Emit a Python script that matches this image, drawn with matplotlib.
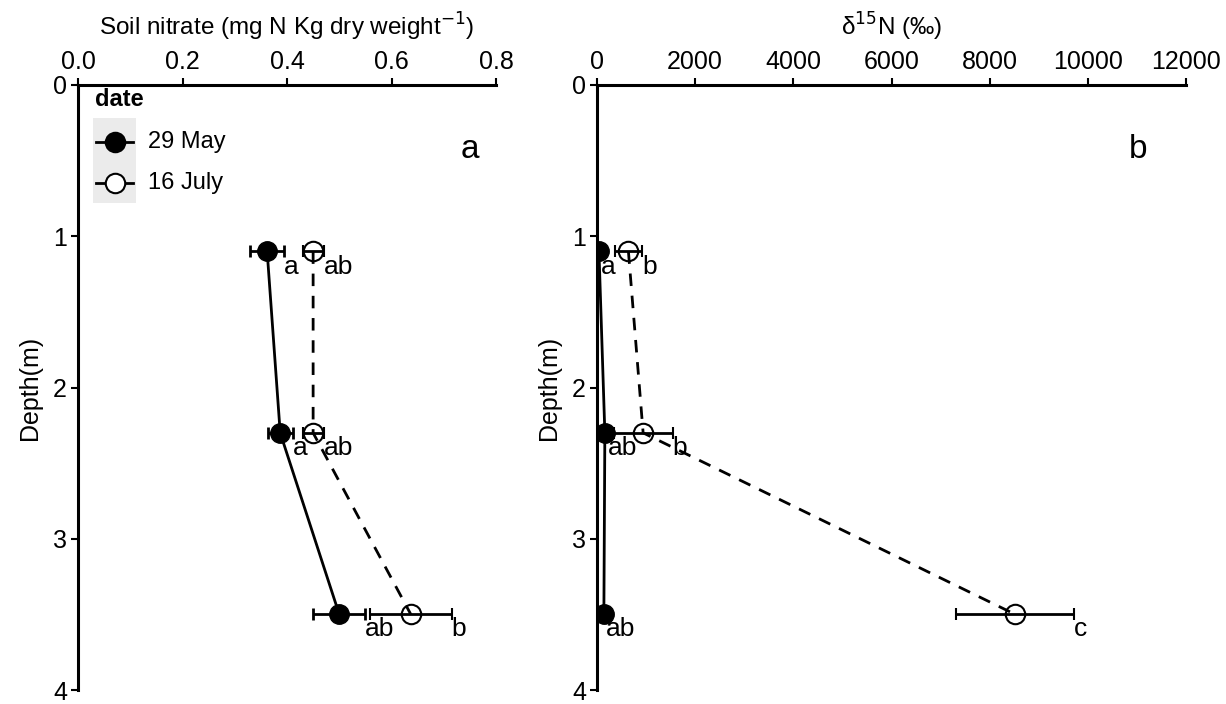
import matplotlib
matplotlib.use("Agg")
import matplotlib.pyplot as plt
from matplotlib.lines import Line2D
from matplotlib.patches import Rectangle

# data
depth = [1.1, 2.3, 3.5]

nitrateMay = [0.362, 0.387, 0.500]
nitrateMayErr = [0.032, 0.024, 0.050]
nitrateJuly = [0.450, 0.450, 0.637]
nitrateJulyErr = [0.020, 0.020, 0.078]
nitrateMayLetters = ["a", "a", "ab"]
nitrateJulyLetters = ["ab", "ab", "b"]

d15nMay = [40, 160, 140]
d15nMayErr = [40, 60, 50]
d15nJuly = [640, 940, 8520]
d15nJulyErr = [280, 600, 1200]
d15nMayLetters = ["a", "ab", "ab"]
d15nJulyLetters = ["b", "b", "c"]

legendLabels = ["29 May", "16 July"]

plt.rcParams["font.family"] = ["Liberation Sans", "DejaVu Sans"]

W, H = 1226, 704
fig = plt.figure(figsize=(W / 100, H / 100), dpi=100)


def box(x0, x1, y0, y1):
    return [x0 / W, 1 - y1 / H, (x1 - x0) / W, (y1 - y0) / H]


axA = fig.add_axes(box(78, 496, 85, 690))
axB = fig.add_axes(box(597, 1186, 85, 690))
dashed = (0, (4.5, 3.5))


def drawPanel(ax, may, mayErr, july, julyErr, mayLet, julyLet, xlim, xticks, xticklabels, xlabel):
    ax.errorbar(may, depth, xerr=mayErr, color="black", lw=2, ls="-", marker="o", ms=14,
                mfc="black", mec="black", capsize=4, elinewidth=2, capthick=2, zorder=3)
    ax.errorbar(july, depth, xerr=julyErr, color="black", lw=2, ls=dashed, marker="o", ms=14,
                mfc="none", mec="black", mew=1.5, capsize=4, elinewidth=2, capthick=2, zorder=3)
    for x, e, d, s in zip(may, mayErr, depth, mayLet):
        ax.text(x + e, d + 0.1, s, ha="left", va="center", fontsize=19)
    for x, e, d, s in zip(july, julyErr, depth, julyLet):
        ax.text(x + e, d + 0.1, s, ha="left", va="center", fontsize=19)

    ax.set_xlim(*xlim)
    ax.set_ylim(4, 0)
    ax.xaxis.tick_top()
    ax.xaxis.set_label_position("top")
    ax.set_xticks(xticks)
    ax.set_xticklabels(xticklabels)
    ax.set_yticks([0, 1, 2, 3, 4])
    ax.set_yticklabels(["0", "1", "2", "3", "4"])
    ax.tick_params(labelsize=18, width=1.5, length=5, color="black", pad=3)
    ax.set_xlabel(xlabel, fontsize=17.5, labelpad=10)
    ax.set_ylabel("Depth(m)", fontsize=18, labelpad=8)
    for side in ["right", "bottom"]:
        ax.spines[side].set_visible(False)
    for side in ["left", "top"]:
        ax.spines[side].set_linewidth(2.2)


drawPanel(axA, nitrateMay, nitrateMayErr, nitrateJuly, nitrateJulyErr, nitrateMayLetters,
          nitrateJulyLetters, (0, 0.8), [0, 0.2, 0.4, 0.6, 0.8], ["0.0", "0.2", "0.4", "0.6", "0.8"],
          "Soil nitrate (mg N Kg dry weight$^{-1}$)")
drawPanel(axB, d15nMay, d15nMayErr, d15nJuly, d15nJulyErr, d15nMayLetters, d15nJulyLetters,
          (0, 12000), list(range(0, 12001, 2000)), [str(v) for v in range(0, 12001, 2000)],
          "δ$^{15}$N (‰)")

fig.text(470 / W, 1 - 150 / H, "a", fontsize=24, ha="center", va="center")
fig.text(1138 / W, 1 - 150 / H, "b", fontsize=24, ha="center", va="center")

# legend drawn by hand, ggplot style with grey key background
fig.text(95 / W, 1 - 100 / H, "date", fontsize=17, fontweight="bold", ha="left", va="center")
fig.add_artist(Rectangle((93 / W, 1 - 203 / H), 43 / W, 85 / H, transform=fig.transFigure,
                         facecolor="#EBEBEB", edgecolor="none", zorder=1))
keyY = [142, 183]
keyFill = ["black", "white"]
for yPix, fill, label in zip(keyY, keyFill, legendLabels):
    fig.add_artist(Line2D([96 / W, 133 / W], [1 - yPix / H] * 2, color="black", lw=2,
                          transform=fig.transFigure, zorder=2))
    fig.add_artist(Line2D([114.5 / W], [1 - yPix / H], marker="o", ms=14, mfc=fill, mec="black",
                          mew=1.5, ls="none", transform=fig.transFigure, zorder=3))
    fig.text(148 / W, 1 - yPix / H, label, fontsize=17, ha="left", va="center")

fig.savefig("out.png", dpi=100)
